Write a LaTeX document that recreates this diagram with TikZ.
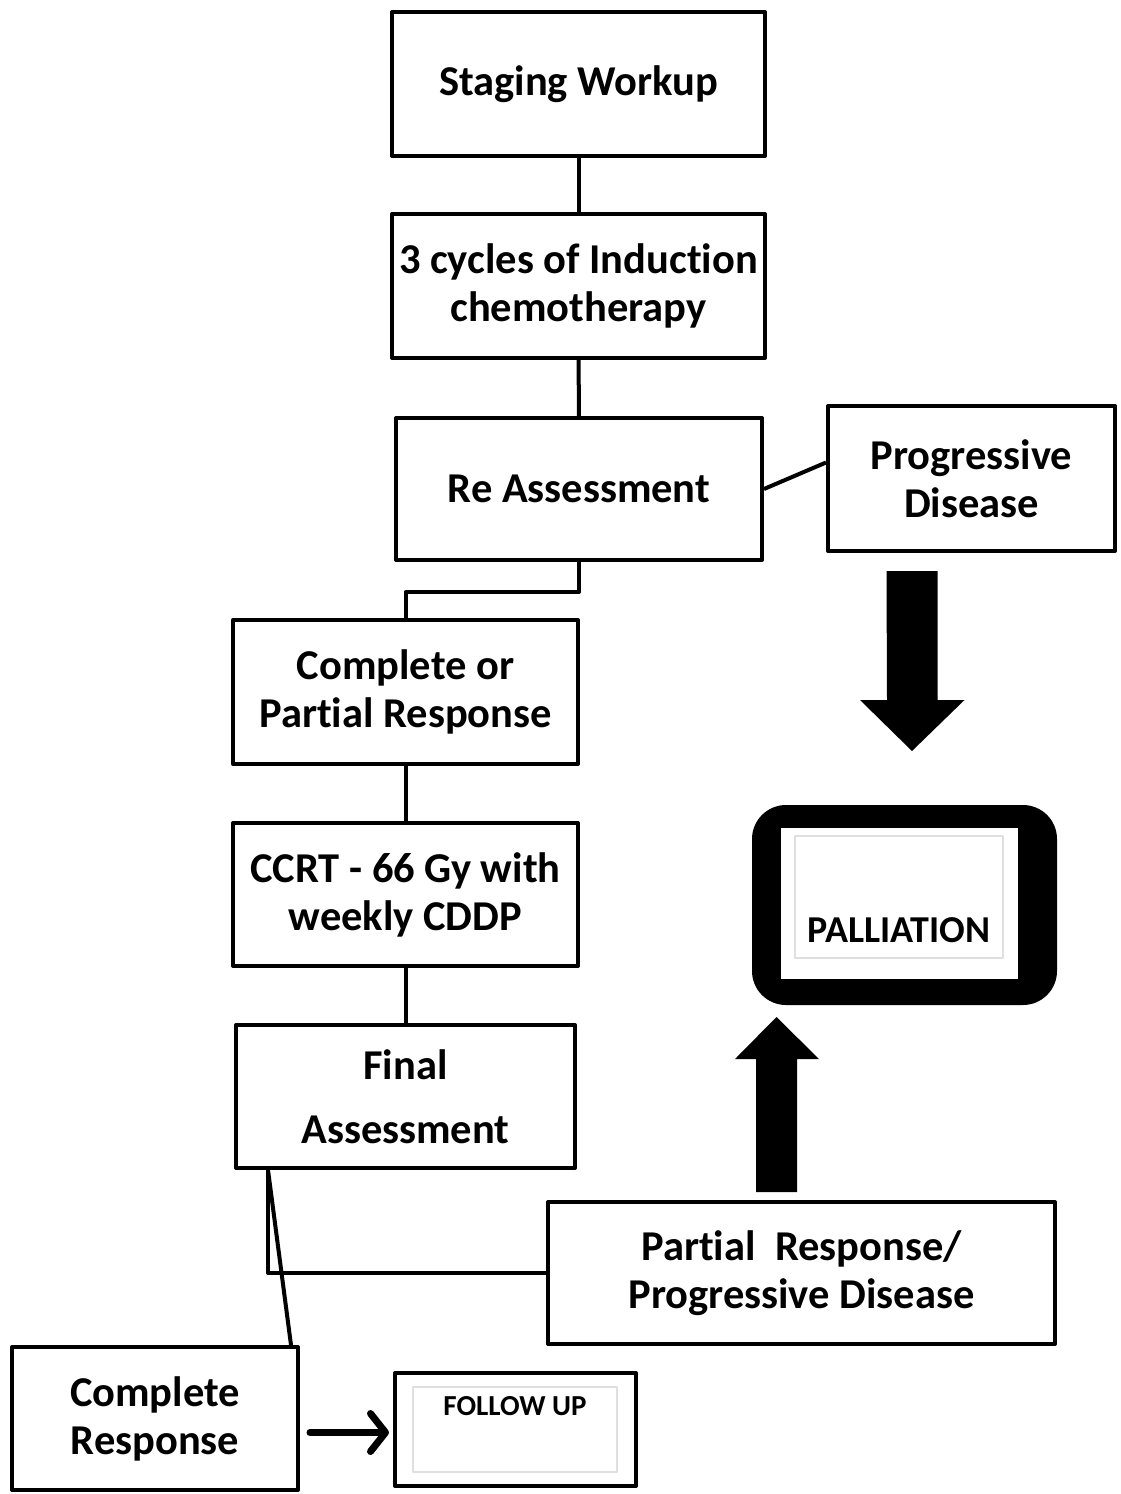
\documentclass[tikz,border=0pt]{standalone}
\usepackage{fontspec}
\setmainfont[Ligatures=NoCommon]{Carlito}
\usetikzlibrary{arrows.meta}

\begin{document}
\begin{tikzpicture}[x=1pt, y=-1pt, line join=round,
    box/.style={draw, line width=4pt, align=center, inner sep=0pt,
      font=\bfseries\fontsize{42.5}{48}\selectfont},
    link/.style={line width=4pt},
    frame/.style={draw=gray!25, line width=1.2pt, inner sep=0pt},
    fwd/.style={line width=7pt, line cap=round,
      -{Straight Barb[length=15pt, width=38pt, line cap=round, line join=round]}}]
    \useasboundingbox (0,0) rectangle (1121,1494);

    % main column
    \node[box, minimum width=373pt, minimum height=144pt] (staging) at (578.5,84) {Staging Workup};
    \node[box, minimum width=373pt, minimum height=144pt] (cycles) at (578.5,286) {3 cycles of Induction\\chemotherapy};
    \node[box, minimum width=366pt, minimum height=142pt] (reassess) at (579,489) {Re Assessment};
    \node[box, minimum width=287pt, minimum height=145pt] (progdis) at (971.5,478.5) {Progressive\\Disease};
    \node[box, minimum width=345pt, minimum height=144pt] (cpr) at (405.5,692) {Complete or\\Partial Response};
    \node[box, minimum width=345pt, minimum height=143pt] (ccrt) at (405.5,894.5) {CCRT - 66 Gy with\\weekly CDDP};
    \node[box, minimum width=339pt, minimum height=143pt] (final) at (405.5,1096.5) {Final\\[16pt]Assessment};
    \node[box, minimum width=507pt, minimum height=142pt] (partial) at (801.5,1273) {Partial~ Response/\\Progressive Disease};
    \node[box, minimum width=286pt, minimum height=143pt] (cr) at (155,1418.5) {Complete\\Response};

    % follow up
    \node[box, minimum width=241pt, minimum height=113pt] (follow) at (515.5,1429.5) {};
    \node[frame, minimum width=204pt, minimum height=85pt] (followin) at (515,1429.5) {};
    \node[font=\bfseries\fontsize{29}{34}\selectfont, anchor=north] (followtxt) at ([yshift=-7pt]followin.north) {FOLLOW UP};

    % palliation
    \node[fill, rounded corners=34pt, minimum width=305pt, minimum height=200pt] (pall) at (904.5,905) {};
    \node[fill=white, minimum width=237pt, minimum height=151pt] (pallwhite) at (899.5,903.5) {};
    \node[frame, minimum width=208pt, minimum height=122pt] (pallin) at (899,897) {};
    \node[font=\bfseries\fontsize{38}{44}\selectfont, anchor=south] (palltxt) at ([yshift=12pt]pallin.south) {PALLIATION};

    % connectors
    \draw[link] (staging) -- (cycles);
    \draw[link] (cycles) -- (reassess);
    \draw[link] (reassess.south) -- ++(0,30) -| (cpr.north);
    \draw[link] (reassess.east) -- ([yshift=16pt]progdis.west);
    \draw[link] (cpr) -- (ccrt);
    \draw[link] (ccrt) -- (final);
    \draw[link] ([xshift=34pt]final.south west) |- (partial.west);
    \draw[link] ([xshift=34pt]final.south west) -- ([xshift=-9pt]cr.north east);
    \draw[fwd, shorten <=10pt, shorten >=4pt] ([yshift=-14pt]cr.east) -- ([yshift=-14pt]cr.east -| follow.west);

    % block arrows
    \coordinate (pd) at (912,571);
    \fill (pd) ++(-25.5,0) -- ++(51,0) -- ++(0,129) -- ++(27,0) -- (912,751) -- (860,700) -- ++(27,0) -- cycle;
    \coordinate (pp) at (776.5,1192);
    \fill (pp) ++(-20.5,0) -- ++(41,0) -- ++(0,-133) -- ++(22,0) -- (776.5,1017) -- (735,1059) -- ++(21,0) -- cycle;
\end{tikzpicture}
\end{document}
